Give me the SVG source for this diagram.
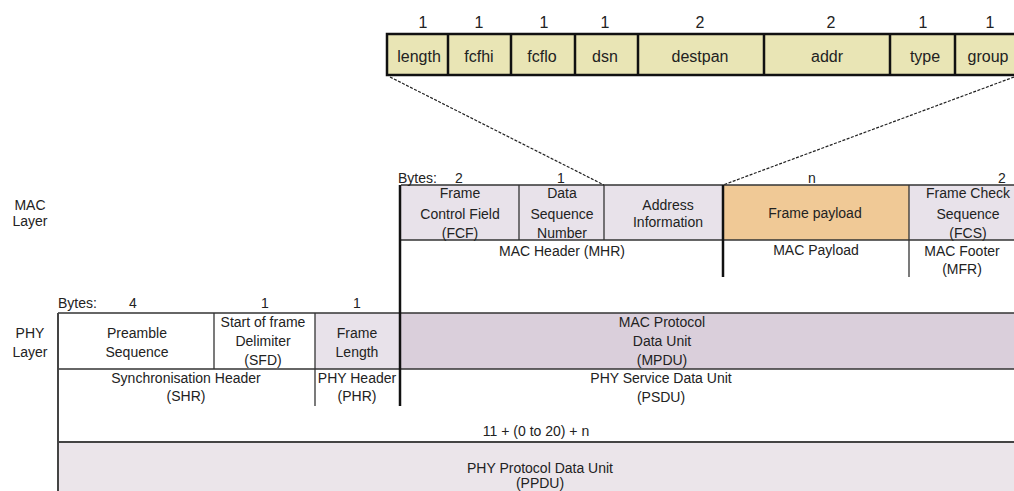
<svg xmlns="http://www.w3.org/2000/svg" width="1014" height="491" viewBox="0 0 1014 491">
  <style>
    text { font-family: "Liberation Sans", Arial, sans-serif; font-size: 14px; fill: #222; text-anchor: middle; }
    .big { font-size: 16px; }
    .left { text-anchor: start; }
    .field { fill: #e9e5b5; stroke: #111; stroke-width: 2.5; }
    .line { stroke: #333; stroke-width: 1.3; fill: none; }
    .thick { stroke: #111; stroke-width: 2.5; fill: none; }
    .mid { stroke: #444; stroke-width: 2; fill: none; }
    .zoom { stroke: #222; stroke-width: 1.2; stroke-dasharray: 3 1.5; fill: none; }
    .lav { fill: #e8e2ea; }
    .lavdark { fill: #dacfdb; }
    .payload { fill: #f0c996; }
  </style>

  <rect width="1014" height="491" fill="#fff"/>

  <!-- Expanded payload fields -->
  <g id="payload-fields">
    <rect class="field" x="387" y="34" width="630" height="41"/>
    <line class="thick" x1="448" y1="34" x2="448" y2="75"/>
    <line class="thick" x1="511" y1="34" x2="511" y2="75"/>
    <line class="thick" x1="575" y1="34" x2="575" y2="75"/>
    <line class="thick" x1="638" y1="34" x2="638" y2="75"/>
    <line class="thick" x1="764" y1="34" x2="764" y2="75"/>
    <line class="thick" x1="890" y1="34" x2="890" y2="75"/>
    <line class="thick" x1="955" y1="34" x2="955" y2="75"/>
    <text class="big" x="423" y="28">1</text>
    <text class="big" x="479" y="28">1</text>
    <text class="big" x="544" y="28">1</text>
    <text class="big" x="605" y="28">1</text>
    <text class="big" x="700" y="28">2</text>
    <text class="big" x="831" y="28">2</text>
    <text class="big" x="923" y="28">1</text>
    <text class="big" x="990" y="28">1</text>
    <text class="big" x="419" y="62">length</text>
    <text class="big" x="479" y="62">fcfhi</text>
    <text class="big" x="542" y="62">fcflo</text>
    <text class="big" x="605" y="62">dsn</text>
    <text class="big" x="700" y="62">destpan</text>
    <text class="big" x="827" y="62">addr</text>
    <text class="big" x="925" y="62">type</text>
    <text class="big" x="988" y="62">group</text>
  </g>

  <!-- Layer labels -->
  <g id="mac-layer-label">
    <text x="30" y="210">MAC</text>
    <text x="30" y="226">Layer</text>
  </g>
  <g id="phy-layer-label">
    <text x="30" y="338">PHY</text>
    <text x="30" y="357">Layer</text>
  </g>

  <!-- MAC frame -->
  <g id="mac-frame">
    <rect class="lav" x="401" y="185" width="322" height="55"/>
    <rect class="payload" x="723" y="185" width="186" height="55"/>
    <rect class="lav" x="909" y="185" width="105" height="55"/>
    <line class="line" x1="401" y1="185" x2="1014" y2="185"/>
    <line class="line" x1="401" y1="240" x2="1014" y2="240"/>
    <line class="line" x1="519" y1="185" x2="519" y2="240"/>
    <line class="line" x1="604" y1="185" x2="604" y2="240"/>
    <line class="line" x1="909" y1="185" x2="909" y2="277"/>
    <line class="thick" x1="723" y1="185" x2="723" y2="277"/>
    <text class="left" x="398" y="183">Bytes:</text>
    <text x="459" y="183">2</text>
    <text x="561" y="183">1</text>
    <text x="812" y="183">n</text>
    <text x="1002" y="183">2</text>
    <text x="460" y="198">Frame</text>
    <text x="460" y="219">Control Field</text>
    <text x="460" y="238">(FCF)</text>
    <text x="562" y="198">Data</text>
    <text x="562" y="219">Sequence</text>
    <text x="562" y="238">Number</text>
    <text x="668" y="210">Address</text>
    <text x="668" y="227">Information</text>
    <text x="815" y="218">Frame payload</text>
    <text x="968" y="198">Frame Check</text>
    <text x="968" y="219">Sequence</text>
    <text x="968" y="238">(FCS)</text>
    <text x="562" y="256">MAC Header (MHR)</text>
    <text x="816" y="255">MAC Payload</text>
    <text x="962" y="256">MAC Footer</text>
    <text x="962" y="274">(MFR)</text>
  </g>

  <!-- PHY frame -->
  <g id="phy-frame">
    <rect class="lav" x="315" y="313" width="85" height="56"/>
    <rect class="lavdark" x="400" y="313" width="614" height="56"/>
    <line class="line" x1="58" y1="313" x2="1014" y2="313"/>
    <line class="line" x1="58" y1="369" x2="1014" y2="369"/>
    <line class="line" x1="214" y1="313" x2="214" y2="369"/>
    <line class="line" x1="315" y1="313" x2="315" y2="406"/>
    <text class="left" x="58" y="308">Bytes:</text>
    <text x="133" y="308">4</text>
    <text x="265" y="308">1</text>
    <text x="357" y="308">1</text>
    <text x="137" y="338">Preamble</text>
    <text x="137" y="357">Sequence</text>
    <text x="263" y="327">Start of frame</text>
    <text x="263" y="346">Delimiter</text>
    <text x="263" y="365">(SFD)</text>
    <text x="357" y="338">Frame</text>
    <text x="357" y="357">Length</text>
    <text x="662" y="327">MAC Protocol</text>
    <text x="662" y="346">Data Unit</text>
    <text x="662" y="365">(MPDU)</text>
    <text x="186" y="383">Synchronisation Header</text>
    <text x="186" y="401">(SHR)</text>
    <text x="357" y="383">PHY Header</text>
    <text x="357" y="401">(PHR)</text>
    <text x="661" y="383">PHY Service Data Unit</text>
    <text x="661" y="402">(PSDU)</text>
  </g>

  <!-- Whole PPDU -->
  <g id="ppdu">
    <rect x="58" y="442" width="956" height="49" fill="#ebe5ea"/>
    <line class="mid" x1="58" y1="442" x2="1014" y2="442"/>
    <text x="536" y="436">11 + (0 to 20) + n</text>
    <text x="540" y="473">PHY Protocol Data Unit</text>
    <text x="540" y="488">(PPDU)</text>
  </g>

  <!-- Connectors -->
  <g id="connectors">
    <line class="zoom" x1="390" y1="77" x2="604" y2="185"/>
    <line class="zoom" x1="1014" y1="77" x2="723" y2="185"/>
    <line class="thick" x1="400" y1="185" x2="400" y2="406"/>
    <line class="mid" x1="58" y1="313" x2="58" y2="491"/>
  </g>
</svg>
